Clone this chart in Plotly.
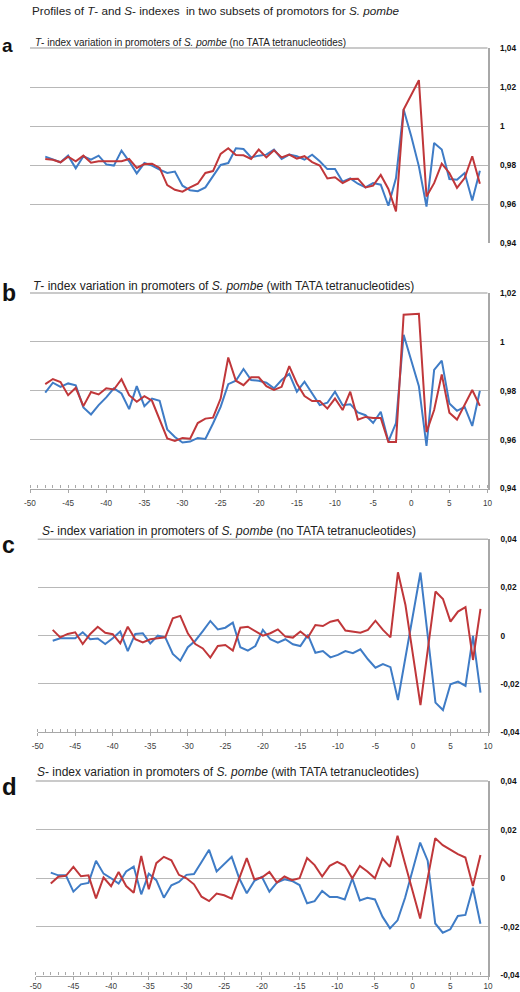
import plotly.graph_objects as go

# ---------------- data ----------------
positions = list(range(-48, 10))

t_noTATA_blue = [0.9843, 0.9827, 0.9814, 0.9848, 0.9783, 0.9845, 0.9827, 0.9848, 0.9803, 0.9797,
                 0.9874, 0.9819, 0.9757, 0.9810, 0.9797, 0.9776, 0.9759, 0.9766, 0.9694, 0.9670,
                 0.9666, 0.9685, 0.9742, 0.9800, 0.9810, 0.9886, 0.9882, 0.9839, 0.9848,
                 0.9853, 0.9879, 0.9831, 0.9853, 0.9845, 0.9827, 0.9853, 0.9819, 0.9779, 0.9779,
                 0.9714, 0.9731, 0.9704, 0.9685, 0.9707, 0.9699, 0.9591, 0.9733, 1.0085, 0.9947,
                 0.9793, 0.9587, 0.9913, 0.9879, 0.9728, 0.9725, 0.9759, 0.9618, 0.9771]
t_noTATA_red = [0.9831, 0.9827, 0.9814, 0.9843, 0.9819, 0.9848, 0.9812, 0.9819, 0.9819, 0.9820,
                0.9819, 0.9831, 0.9785, 0.9805, 0.9807, 0.9785, 0.9697, 0.9673, 0.9663, 0.9685,
                0.9704, 0.9759, 0.9769, 0.9857, 0.9886, 0.9851, 0.9850, 0.9831, 0.9879,
                0.9839, 0.9875, 0.9839, 0.9853, 0.9833, 0.9845, 0.9815, 0.9797, 0.9731, 0.9737,
                0.9707, 0.9728, 0.9730, 0.9685, 0.9694, 0.9749, 0.9677, 0.9562, 1.0085, 1.0162,
                1.0235, 0.9639, 0.9707, 0.9807, 0.9759, 0.9683, 0.9733, 0.9845, 0.9704]

t_TATA_blue = [0.9792, 0.9833, 0.9816, 0.9830, 0.9822, 0.9732, 0.9703, 0.9741, 0.9773, 0.9810,
               0.9789, 0.9725, 0.9819, 0.9737, 0.9768, 0.9759, 0.9642, 0.9611, 0.9588, 0.9592,
               0.9607, 0.9603, 0.9666, 0.9734, 0.9827, 0.9841, 0.9889, 0.9844, 0.9841,
               0.9833, 0.9810, 0.9844, 0.9869, 0.9796, 0.9837, 0.9789, 0.9741, 0.9751, 0.9796,
               0.9741, 0.9745, 0.9711, 0.9700, 0.9668, 0.9714, 0.9593, 0.9668, 1.0029, 0.9926,
               0.9819, 0.9574, 0.9885, 0.9923, 0.9748, 0.9718, 0.9734, 0.9656, 0.9800]
t_TATA_red = [0.9827, 0.9848, 0.9836, 0.9782, 0.9812, 0.9737, 0.9795, 0.9785, 0.9810, 0.9805,
              0.9847, 0.9782, 0.9755, 0.9778, 0.9759, 0.9682, 0.9605, 0.9595, 0.9607, 0.9604,
              0.9668, 0.9686, 0.9690, 0.9768, 0.9936, 0.9841, 0.9823, 0.9855, 0.9855,
              0.9819, 0.9803, 0.9816, 0.9901, 0.9830, 0.9778, 0.9758, 0.9758, 0.9727, 0.9768,
              0.9721, 0.9796, 0.9682, 0.9693, 0.9689, 0.9689, 0.9590, 0.9590, 1.0111, 1.0114,
              1.0115, 0.9631, 0.9721, 0.9867, 0.9710, 0.9682, 0.9741, 0.9803, 0.9738]

s_noTATA_blue = [-0.0021, -0.0011, -0.0011, -0.0011, 0.0014, -0.0015, -0.0012, -0.0035, -0.0011, 0.0017,
                 -0.0064, 0.0007, 0.0010, -0.0032, 0.0000, -0.0007, -0.0076, -0.0104, -0.0048, -0.0021,
                 0.0019, 0.0061, 0.0026, 0.0033, 0.0054, -0.0048, -0.0062, -0.0043,
                 0.0024, -0.0015, -0.0029, -0.0015, -0.0036, -0.0043, 0.0003, -0.0071, -0.0064, -0.0090,
                 -0.0080, -0.0064, -0.0073, -0.0057, -0.0098, -0.0133, -0.0118, -0.0131, -0.0267, -0.0091,
                 0.0086, 0.0262, -0.0008, -0.0278, -0.0309, -0.0202, -0.0191, -0.0209, -0.0001, -0.0237]
s_noTATA_red = [0.0024, -0.0007, 0.0007, 0.0014, -0.0035, 0.0007, 0.0037, 0.0012, 0.0006, -0.0032,
                0.0037, -0.0015, -0.0028, -0.0015, -0.0011, -0.0007, 0.0072, 0.0082, 0.0010, -0.0035,
                -0.0053, -0.0091, -0.0043, -0.0039, -0.0062, 0.0033, 0.0037, 0.0017,
                0.0000, 0.0010, 0.0026, -0.0004, -0.0008, 0.0017, -0.0008, 0.0044, 0.0040, 0.0058,
                0.0065, 0.0021, 0.0015, 0.0012, 0.0024, 0.0062, 0.0024, -0.0007, 0.0263, 0.0127,
                -0.0080, -0.0288, -0.0053, 0.0183, 0.0152, 0.0058, 0.0100, 0.0118, -0.0101, 0.0111]

s_TATA_blue = [0.0023, 0.0012, 0.0012, -0.0055, -0.0025, -0.0019, 0.0072, 0.0019, 0.0000, -0.0022,
               0.0028, 0.0048, -0.0066, 0.0019, -0.0008, -0.0080, -0.0029, -0.0015, 0.0014, 0.0017,
               0.0067, 0.0117, 0.0028, 0.0058, 0.0088, 0.0000, -0.0062, -0.0011,
               0.0006, -0.0055, -0.0018, -0.0004, -0.0011, -0.0028, -0.0103, -0.0094, -0.0052, -0.0077,
               -0.0077, -0.0087, -0.0001, -0.0091, -0.0080, -0.0087, -0.0158, -0.0206, -0.0173, -0.0080,
               0.0030, 0.0147, 0.0072, -0.0186, -0.0224, -0.0210, -0.0155, -0.0151, -0.0039, -0.0187]
s_TATA_red = [-0.0022, 0.0006, 0.0010, 0.0047, 0.0008, 0.0012, -0.0083, 0.0003, -0.0033, 0.0026,
              -0.0032, -0.0060, 0.0092, -0.0045, 0.0062, 0.0088, 0.0074, 0.0014, 0.0000, -0.0025,
              -0.0076, -0.0094, -0.0063, -0.0070, -0.0084, 0.0003, 0.0083, -0.0004,
              0.0003, 0.0026, -0.0018, 0.0007, -0.0008, 0.0000, 0.0083, 0.0054, 0.0007, 0.0051,
              0.0067, 0.0051, 0.0000, 0.0051, 0.0028, 0.0000, 0.0081, 0.0047, 0.0175, 0.0060,
              -0.0052, -0.0166, 0.0000, 0.0165, 0.0136, 0.0117, 0.0099, 0.0085, -0.0032, 0.0096]

x_tickvals = [-50, -45, -40, -35, -30, -25, -20, -15, -10, -5, 0, 5, 10]
x_ticktext = ["-50", "-45", "-40", "-35", "-30", "-25", "-20", "-15", "-10", "-5", "0", "5", "10"]

t_a_tickvals = [0.94, 0.96, 0.98, 1.00, 1.02, 1.04]
t_a_ticktext = ["0,94", "0,96", "0,98", "1", "1,02", "1,04"]
t_b_tickvals = [0.94, 0.96, 0.98, 1.00, 1.02]
t_b_ticktext = ["0,94", "0,96", "0,98", "1", "1,02"]
s_tickvals = [-0.04, -0.02, 0.0, 0.02, 0.04]
s_ticktext = ["-0,04", "-0,02", "0", "0,02", "0,04"]

main_title = "Profiles of <i>T</i>- and <i>S</i>- indexes&nbsp; in two subsets of promotors for <i>S. pombe</i>"
panel_titles = [
    "<i>T</i>- index variation in promoters of <i>S. pombe</i> (no TATA tetranucleotides)",
    "<i>T</i>- index variation in promoters of <i>S. pombe</i> (with TATA tetranucleotides)",
    "<i>S</i>- index variation in promoters of <i>S. pombe</i> (no TATA tetranucleotides)",
    "<i>S</i>- index variation in promoters of <i>S. pombe</i> (with TATA tetranucleotides)",
]
panel_letters = ["a", "b", "c", "d"]

# ---------------- styling ----------------
W, H = 520, 992
BLUE = "#3f7cc6"
RED = "#c0373a"
GRID = "#b8b8b8"
AXIS = "#a8a8a8"
FONT = "Liberation Sans, Arial, sans-serif"

def px_x(v):
    return v / W

def px_y(v):
    return 1 - v / H

# panel geometry in pixels: (left, right, top, bottom)
panels = [
    (30.0, 487.5, 48.0, 243.0),
    (30.0, 487.5, 293.0, 488.5),
    (37.7, 488.0, 539.3, 732.0),
    (35.7, 488.0, 781.0, 975.5),
]
series = [
    (t_noTATA_blue, t_noTATA_red, [0.94, 1.04], t_a_tickvals, t_a_ticktext),
    (t_TATA_blue, t_TATA_red, [0.94, 1.02], t_b_tickvals, t_b_ticktext),
    (s_noTATA_blue, s_noTATA_red, [-0.04, 0.04], s_tickvals, s_ticktext),
    (s_TATA_blue, s_TATA_red, [-0.04, 0.04], s_tickvals, s_ticktext),
]
title_y = [42, 286, 531, 772]
title_x = [33, 30.5, 40, 35]
title_size = [10.0, 12.0, 12.0, 12.0]
letter_y = [45, 293, 545, 786]
letter_size = [19, 23, 23, 24]
xlabel_standoff = [0, 4, 3, 0]

fig = go.Figure()
layout = dict(
    width=W, height=H,
    margin=dict(l=0, r=0, t=0, b=0, autoexpand=False),
    paper_bgcolor="white", plot_bgcolor="white",
    showlegend=False,
    font=dict(family=FONT, color="#222222"),
)
annotations = []
shapes = []

for i, ((l, r, t, b), (blue, red, yr, tv, tt)) in enumerate(zip(panels, series)):
    n = "" if i == 0 else str(i + 1)
    xa, ya = "x" + n, "y" + n
    fig.add_trace(go.Scatter(x=positions, y=blue, mode="lines", xaxis=xa, yaxis=ya,
                             line=dict(color=BLUE, width=2)))
    fig.add_trace(go.Scatter(x=positions, y=red, mode="lines", xaxis=xa, yaxis=ya,
                             line=dict(color=RED, width=2)))
    xaxis = dict(
        domain=[px_x(l), px_x(r)], range=[-50, 10], anchor=ya,
        showgrid=False, zeroline=False, fixedrange=True, automargin=False,
    )
    if i == 0:
        xaxis.update(showline=False, showticklabels=False, ticks="")
    else:
        xaxis.update(
            showline=True, linecolor=AXIS, linewidth=1.3,
            tickmode="array", tickvals=x_tickvals, ticktext=x_ticktext,
            ticks="outside", ticklen=3, tickwidth=1, tickcolor=AXIS,
            ticklabelstandoff=xlabel_standoff[i],
            tickfont=dict(size=8.2, color="#404040", family=FONT),
            minor=dict(tickmode="linear", tick0=-50, dtick=1, ticks="inside",
                       ticklen=3, tickwidth=1, tickcolor=AXIS, showgrid=False),
        )
    yaxis = dict(
        domain=[px_y(b), px_y(t)], range=yr, anchor=xa, side="right",
        showline=True, linecolor=AXIS, linewidth=1.5,
        showgrid=True, gridcolor=GRID, gridwidth=1.4, zeroline=False,
        tickmode="array", tickvals=tv, ticktext=tt, ticks="",
        ticklabelstandoff=9, automargin=False,
        tickfont=dict(size=8.3, color="#111111", family=FONT, weight="bold"),
        fixedrange=True,
    )
    layout["xaxis" + n] = xaxis
    layout["yaxis" + n] = yaxis
    # top border of plot area
    shapes.append(dict(type="line", xref=xa + " domain", yref=ya + " domain",
                       x0=0, x1=1, y0=1, y1=1, line=dict(color=GRID, width=1.4)))
    annotations.append(dict(text=panel_titles[i], xref="paper", yref="paper",
                             x=px_x(title_x[i]), y=px_y(title_y[i]),
                             xanchor="left", yanchor="middle", showarrow=False,
                             font=dict(size=title_size[i], color="#222222", family=FONT)))
    annotations.append(dict(text="<b>" + panel_letters[i] + "</b>", xref="paper", yref="paper",
                             x=px_x(0), y=px_y(letter_y[i]),
                             xanchor="left", yanchor="middle", showarrow=False,
                             font=dict(size=letter_size[i], color="#111111", family=FONT)))

annotations.append(dict(text=main_title, xref="paper", yref="paper",
                        x=px_x(30), y=px_y(10), xanchor="left", yanchor="middle",
                        showarrow=False, font=dict(size=11.7, color="#222222", family=FONT)))

layout["annotations"] = annotations
layout["shapes"] = shapes
fig.update_layout(**layout)

# remove the browser's default 8px page margin so the 520x992 figure fills the window
fig.write_html("out.html",
               config={"displayModeBar": False},
               post_script="document.body.style.margin='0';document.body.style.overflow='hidden';")
